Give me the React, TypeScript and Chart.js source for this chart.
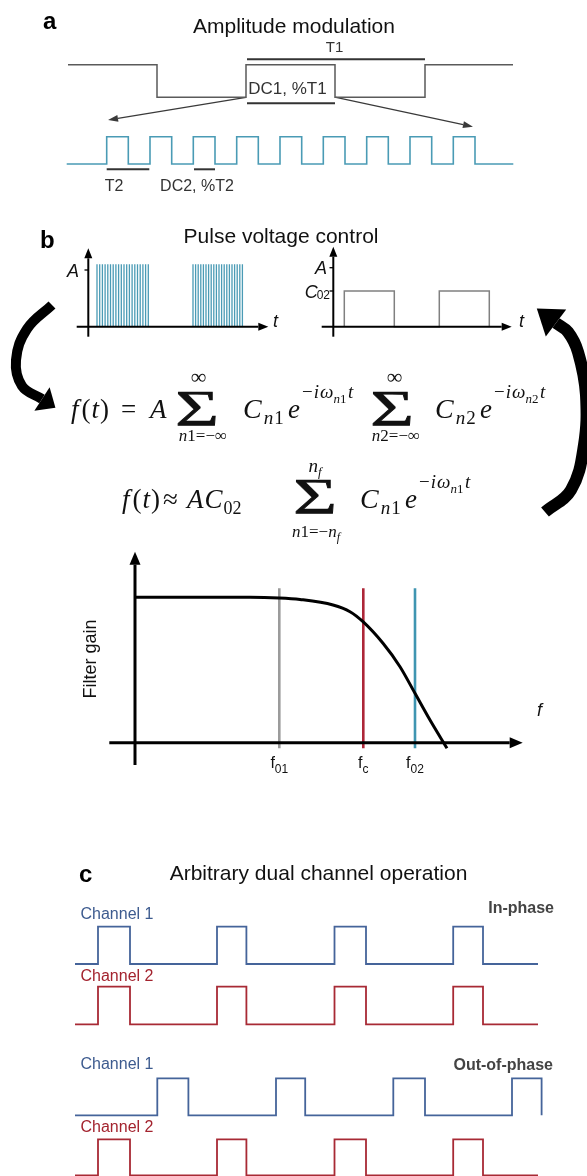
import React, { useEffect, useRef } from "react";
import { Chart, registerables } from "chart.js";
Chart.register(...registerables);

const PAGE_W = 587;
const PAGE_H = 1176;

// ---------------- texts ----------------
const TITLE_A = "Amplitude modulation";
const TITLE_B = "Pulse voltage control";
const TITLE_C = "Arbitrary dual channel operation";
const LBL_T1 = "T1";
const LBL_DC1 = "DC1, %T1";
const LBL_T2 = "T2";
const LBL_DC2 = "DC2, %T2";
const LBL_GAIN = "Filter gain";
const LBL_CH1 = "Channel 1";
const LBL_CH2 = "Channel 2";
const LBL_IN = "In-phase";
const LBL_OUT = "Out-of-phase";
const FREQ_MARK_SUBS = ["01", "c", "02"];

// ---------------- panel a values ----------------
const ENV_START = 68;
const ENV_END = 513;
const ENV_HIGH = 64.7;
const ENV_LOW = 97.3;
const ENV_EDGES = [157, 246, 335, 425];
const CARRIER_START = 66.7;
const CARRIER_END = 513.3;
const CARRIER_HIGH = 136.7;
const CARRIER_LOW = 164;
const CARRIER_EDGES = [106.7, 128.3, 150, 171.7, 193.3, 215, 236.7, 258.3, 280, 301.7, 323.3, 345, 366.7, 388.3, 410, 431.7, 453.3, 475];
const T1_SPAN = [247, 425];
const DC1_SPAN = [247, 335];
const T2_SPAN = [106.7, 149.3];
const DC2_SPAN = [194, 215];

// ---------------- panel b values ----------------
const BURST_1 = [97, 99.7, 102.4, 105.1, 107.8, 110.5, 113.2, 115.9, 118.6, 121.3, 124, 126.7, 129.4, 132.1, 134.8, 137.5, 140.2, 142.9, 145.6, 148.3];
const BURST_2 = [193, 195.6, 198.2, 200.8, 203.4, 206, 208.6, 211.2, 213.8, 216.4, 219, 221.6, 224.2, 226.8, 229.4, 232, 234.6, 237.2, 239.8, 242.4];
const BURST_TOP = 264.3;
const B_BASE = 326.7;
const GATE_EDGES = [344.3, 394.3, 439.3, 489.3];
const GATE_HIGH = 291;

// ---------------- filter values ----------------
const FILTER_F = [135, 250, 279, 300, 333, 350, 363, 383, 400, 415, 430, 447];
const FILTER_GAIN = [597.3, 597.3, 598, 599.5, 605, 611.7, 621.7, 643.3, 666.7, 693.3, 720, 748.3];
const FREQ_MARKS = [279.3, 363.3, 415];
const FREQ_MARK_COLORS = ["#9b9b9b", "#ad2638", "#3f95b1"];
const FREQ_MARK_TOP = 588.3;
const FREQ_MARK_BOTTOM = 748.3;

// ---------------- panel c values ----------------
const CH_START = 75;
const CH_END = 538;
const IN_EDGES = [98, 130, 217, 246.4, 334.5, 366, 453.2, 483];
const OUT_CH1_EDGES = [157.3, 188.4, 276, 305.2, 393.3, 425, 512, 541.6];
const OUT_CH2_EDGES = [98, 130, 217, 246.4, 334.5, 366, 453.2, 483];
const IN_CH1_LEVELS = [964, 926.7];
const IN_CH2_LEVELS = [1024.3, 986.7];
const OUT_CH1_LEVELS = [1115.3, 1078.3];
const OUT_CH2_LEVELS = [1175.3, 1139.3];

// ---------------- curved arrows ----------------
const ARC_LEFT = [
  [52, 305], [27, 329], [16, 360], [22, 386], [42, 399],
];
const ARC_RIGHT = [
  [545, 512], [571, 490], [584, 445], [586, 395], [578, 352], [568, 332], [556, 323],
];

type Pt = { x: number; y: number | null };

function square(start: number, end: number, edges: number[], lo: number, hi: number, startHigh: boolean): Pt[] {
  const pts: Pt[] = [];
  let level = startHigh ? hi : lo;
  pts.push({ x: start, y: level });
  for (const e of edges) {
    pts.push({ x: e, y: level });
    level = level === hi ? lo : hi;
    pts.push({ x: e, y: level });
  }
  pts.push({ x: end, y: level });
  return pts;
}
function spikes(xsv: number[], lo: number, hi: number): Pt[] {
  const pts: Pt[] = [];
  for (const x of xsv) {
    pts.push({ x, y: lo }, { x, y: hi }, { x, y: null });
  }
  return pts;
}
function seg(x1: number, y1: number, x2: number, y2: number): Pt[] {
  return [{ x: x1, y: y1 }, { x: x2, y: y2 }];
}
function poly(arr: number[][]): Pt[] {
  return arr.map(([x, y]) => ({ x, y }));
}
function ds(data: Pt[], color: string, width: number, extra: any = {}) {
  return {
    data,
    borderColor: color,
    backgroundColor: color,
    borderWidth: width,
    pointRadius: 0,
    pointHoverRadius: 0,
    fill: false,
    tension: 0,
    spanGaps: false,
    borderCapStyle: "butt",
    borderJoinStyle: "miter",
    order: 5,
    ...extra,
  };
}

const SANS = '"Liberation Sans", Arial, sans-serif';
const SERIF = '"Liberation Serif", "DejaVu Serif", serif';

type Tok = { s: string; z: number; dy?: number; it?: boolean; g?: number };

const arrowPlugin = {
  id: "arrowheads",
  afterDatasetsDraw(chart: any) {
    const ctx = chart.ctx;
    chart.data.datasets.forEach((d: any, i: number) => {
      if (!d.arrowHead) return;
      const pts = chart.getDatasetMeta(i).data;
      const a = pts[pts.length - 2];
      const b = pts[pts.length - 1];
      const ang = Math.atan2(b.y - a.y, b.x - a.x);
      const c = Math.cos(ang), s = Math.sin(ang);
      const { len, w } = d.arrowHead;
      const tx = b.x + len * c, ty = b.y + len * s;
      ctx.save();
      ctx.fillStyle = d.borderColor;
      ctx.beginPath();
      ctx.moveTo(tx, ty);
      ctx.lineTo(b.x - (w / 2) * s, b.y + (w / 2) * c);
      ctx.lineTo(b.x + (w / 2) * s, b.y - (w / 2) * c);
      ctx.closePath();
      ctx.fill();
      ctx.restore();
    });
  },
};

const textPlugin = {
  id: "texts",
  afterDraw(chart: any) {
    const ctx: CanvasRenderingContext2D = chart.ctx;
    const X = (v: number) => chart.scales.x.getPixelForValue(v);
    const Y = (v: number) => chart.scales.y.getPixelForValue(v);
    const text = (s: string, x: number, y: number, font: string, color: string, align: CanvasTextAlign = "left") => {
      ctx.font = font;
      ctx.fillStyle = color;
      ctx.textAlign = align;
      ctx.textBaseline = "alphabetic";
      ctx.fillText(s, X(x), Y(y));
    };
    const mfont = (t: Tok) => `${t.it ? "italic " : ""}${t.z}px ${SERIF}`;
    const runW = (toks: Tok[]) => {
      let w = 0;
      for (const t of toks) {
        ctx.font = mfont(t);
        w += ctx.measureText(t.s).width + (t.g || 0);
      }
      return w;
    };
    const run = (x: number, y: number, toks: Tok[]) => {
      let px = X(x);
      ctx.textAlign = "left";
      ctx.textBaseline = "alphabetic";
      ctx.fillStyle = "#111";
      for (const t of toks) {
        ctx.font = mfont(t);
        ctx.fillText(t.s, px, Y(y) + (t.dy || 0));
        px += ctx.measureText(t.s).width + (t.g || 0);
      }
    };
    const centered = (cx: number, y: number, toks: Tok[]) => {
      const w = runW(toks);
      run(cx - w / 2, y, toks);
    };
    const sigma = (cx: number, bottom: number) => {
      ctx.save();
      ctx.translate(X(cx), Y(bottom));
      ctx.scale(1.5, 1);
      ctx.font = `50px ${SERIF}`;
      ctx.fillStyle = "#111";
      ctx.strokeStyle = "#111";
      ctx.lineWidth = 0.7;
      ctx.textAlign = "center";
      ctx.textBaseline = "alphabetic";
      ctx.fillText("\u03A3", 0, 0);
      ctx.strokeText("\u03A3", 0, 0);
      ctx.restore();
    };
    const term = (xc: number, xe: number, y: number, sub: string) => {
      run(xc, y, [
        { s: "C", z: 28, it: true, g: 2 },
        { s: "n", z: 19, dy: 6, it: true, g: 1 },
        { s: sub, z: 19, dy: 6 },
      ]);
      run(xe, y, [{ s: "e", z: 27, it: true, g: 2 }]);
      run(xe + 14, y, [
        { s: "\u2212", z: 19, dy: -20, g: 1 },
        { s: "i", z: 19, dy: -20, it: true, g: 1 },
        { s: "\u03C9", z: 19, dy: -20, it: true },
        { s: "n", z: 13, dy: -15, it: true },
        { s: sub, z: 13, dy: -15, g: 1.5 },
        { s: "t", z: 19, dy: -20, it: true },
      ]);
    };
    const fOfT: Tok[] = [
      { s: "f", z: 27, it: true, g: 3 },
      { s: "(", z: 27, g: 1 },
      { s: "t", z: 27, it: true, g: 1 },
      { s: ")", z: 27 },
    ];

    // ---- panel letters & titles
    text("a", 43, 29, `bold 24px ${SANS}`, "#000");
    text(TITLE_A, 294, 33, `21px ${SANS}`, "#111", "center");
    text("b", 40, 248, `bold 24px ${SANS}`, "#000");
    text(TITLE_B, 281, 243, `21px ${SANS}`, "#111", "center");
    text("c", 79, 882, `bold 24px ${SANS}`, "#000");
    text(TITLE_C, 318.5, 880, `21px ${SANS}`, "#111", "center");

    // ---- panel a labels
    text(LBL_T1, 334.5, 52, `15px ${SANS}`, "#333", "center");
    text(LBL_DC1, 287.5, 94, `17px ${SANS}`, "#333", "center");
    text(LBL_T2, 114, 191, `16px ${SANS}`, "#333", "center");
    text(LBL_DC2, 197, 191, `16px ${SANS}`, "#333", "center");

    // ---- panel b axis labels
    text("A", 79, 276.5, `italic 18px ${SANS}`, "#111", "right");
    text("t", 273, 327, `italic 18px ${SANS}`, "#111");
    text("A", 327, 274, `italic 18px ${SANS}`, "#111", "right");
    ctx.font = `12px ${SANS}`;
    const w02 = ctx.measureText("02").width;
    text("02", 330, 299, `12px ${SANS}`, "#111", "right");
    text("C", 330 - w02 + 1, 297.5, `italic 18px ${SANS}`, "#111", "right");
    text("t", 519, 327, `italic 18px ${SANS}`, "#111");

    // ---- equations
    run(71, 418, fOfT);
    run(121, 418, [{ s: "=", z: 27 }]);
    run(150, 418, [{ s: "A", z: 27, it: true }]);
    sigma(197, 425);
    centered(198.5, 384, [{ s: "\u221E", z: 22 }]);
    centered(203, 441, [{ s: "n", z: 17, it: true }, { s: "1=\u2212\u221E", z: 17 }]);
    term(243, 288, 418, "1");
    sigma(392, 425);
    centered(394.5, 384, [{ s: "\u221E", z: 22 }]);
    centered(396, 441, [{ s: "n", z: 17, it: true }, { s: "2=\u2212\u221E", z: 17 }]);
    term(435, 480, 418, "2");

    run(122, 508, fOfT);
    run(163, 508, [{ s: "\u2248", z: 27 }]);
    run(187, 508, [
      { s: "A", z: 27, it: true, g: 1 },
      { s: "C", z: 27, it: true, g: 1 },
      { s: "02", z: 18, dy: 6 },
    ]);
    sigma(315, 513);
    centered(315, 472, [{ s: "n", z: 19, it: true }, { s: "f", z: 13, dy: 4, it: true }]);
    centered(316, 537, [
      { s: "n", z: 17, it: true },
      { s: "1=\u2212", z: 17 },
      { s: "n", z: 17, it: true },
      { s: "f", z: 12, dy: 4, it: true },
    ]);
    term(360, 405, 508, "1");

    // ---- filter labels
    ctx.save();
    ctx.translate(X(96), Y(659));
    ctx.rotate(-Math.PI / 2);
    ctx.font = `18px ${SANS}`;
    ctx.fillStyle = "#111";
    ctx.textAlign = "center";
    ctx.textBaseline = "alphabetic";
    ctx.fillText(LBL_GAIN, 0, 0);
    ctx.restore();
    FREQ_MARKS.forEach((fx, i) => {
      const sub = FREQ_MARK_SUBS[i];
      ctx.font = `16px ${SANS}`;
      const wf = ctx.measureText("f").width;
      ctx.font = `12px ${SANS}`;
      const ws = ctx.measureText(sub).width;
      const left = fx - (wf + ws) / 2;
      text("f", left, 768, `16px ${SANS}`, "#111");
      text(sub, left + wf, 773, `12px ${SANS}`, "#111");
    });
    text("f", 537, 716, `italic 18px ${SANS}`, "#111");

    // ---- panel c labels
    text(LBL_IN, 554, 913, `bold 16px ${SANS}`, "#444", "right");
    text(LBL_CH1, 80.5, 919, `16px ${SANS}`, "#3d5b8f");
    text(LBL_CH2, 80.5, 981, `16px ${SANS}`, "#a3232e");
    text(LBL_OUT, 553, 1070, `bold 16px ${SANS}`, "#444", "right");
    text(LBL_CH1, 80.5, 1069, `16px ${SANS}`, "#3d5b8f");
    text(LBL_CH2, 80.5, 1132, `16px ${SANS}`, "#a3232e");
  },
};

export default function App() {
  const ref = useRef<HTMLCanvasElement | null>(null);
  useEffect(() => {
    if (!ref.current) return;
    const BLUE = "#4a9bb5";
    const C1 = "#45649a";
    const C2 = "#a82a35";
    const datasets: any[] = [
      // panel a
      ds(square(ENV_START, ENV_END, ENV_EDGES, ENV_LOW, ENV_HIGH, true), "#5a5a5a", 1.5),
      ds(square(CARRIER_START, CARRIER_END, CARRIER_EDGES, CARRIER_LOW, CARRIER_HIGH, false), BLUE, 1.6),
      ds(seg(T1_SPAN[0], 59.3, T1_SPAN[1], 59.3), "#333", 2),
      ds(seg(DC1_SPAN[0], 103.3, DC1_SPAN[1], 103.3), "#333", 2),
      ds(seg(T2_SPAN[0], 169.3, T2_SPAN[1], 169.3), "#333", 2),
      ds(seg(DC2_SPAN[0], 169.3, DC2_SPAN[1], 169.3), "#333", 2),
      ds(seg(246, 97.3, 117.9, 118.4), "#3a3a3a", 1.2, { arrowHead: { len: 10, w: 7 } }),
      ds(seg(336, 97.3, 463.2, 124.6), "#3a3a3a", 1.2, { arrowHead: { len: 10, w: 7 } }),
      // panel b
      ds(spikes(BURST_1, B_BASE, BURST_TOP).concat(spikes(BURST_2, B_BASE, BURST_TOP)), BLUE, 1.3, { order: 6 }),
      ds(square(GATE_EDGES[0], GATE_EDGES[3], GATE_EDGES, B_BASE, GATE_HIGH, false), "#808080", 1.5, { order: 6 }),
      ds(seg(88.3, 336.7, 88.3, 258.3), "#000", 2, { arrowHead: { len: 10, w: 8 }, order: 1 }),
      ds(seg(76.7, 326.7, 258.3, 326.7), "#000", 2, { arrowHead: { len: 10, w: 8 }, order: 1 }),
      ds(seg(333.3, 336.7, 333.3, 256.7), "#000", 2, { arrowHead: { len: 10, w: 8 }, order: 1 }),
      ds(seg(321.7, 326.7, 501.7, 326.7), "#000", 2, { arrowHead: { len: 10, w: 8 }, order: 1 }),
      ds(seg(84.5, 270, 88.3, 270), "#000", 1.3, { order: 1 }),
      ds(seg(329.5, 267.7, 333.3, 267.7), "#000", 1.3, { order: 1 }),
      ds(seg(329.5, 291, 333.3, 291), "#000", 1.3, { order: 1 }),
      // curved arrows
      ds(poly(ARC_LEFT), "#000", 10, { tension: 0.4, arrowHead: { len: 16, w: 28 } }),
      ds(poly(ARC_RIGHT), "#000", 12, { tension: 0.4, arrowHead: { len: 24, w: 34 } }),
      // filter
      ...FREQ_MARKS.map((fx, i) => ds(seg(fx, FREQ_MARK_TOP, fx, FREQ_MARK_BOTTOM), FREQ_MARK_COLORS[i], 2.6, { order: 8 })),
      ds(FILTER_F.map((f, i) => ({ x: f, y: FILTER_GAIN[i] })), "#000", 3, { cubicInterpolationMode: "monotone", order: 2 }),
      ds(seg(135, 765, 135, 564.7), "#000", 3, { arrowHead: { len: 13, w: 11 }, order: 1 }),
      ds(seg(109.3, 742.7, 509.7, 742.7), "#000", 3, { arrowHead: { len: 13, w: 11 }, order: 1 }),
      // panel c
      ds(square(CH_START, CH_END, IN_EDGES, IN_CH1_LEVELS[0], IN_CH1_LEVELS[1], false), C1, 1.8),
      ds(square(CH_START, CH_END, IN_EDGES, IN_CH2_LEVELS[0], IN_CH2_LEVELS[1], false), C2, 1.8),
      ds(square(CH_START, OUT_CH1_EDGES[OUT_CH1_EDGES.length - 1], OUT_CH1_EDGES, OUT_CH1_LEVELS[0], OUT_CH1_LEVELS[1], false), C1, 1.8),
      ds(square(CH_START, CH_END, OUT_CH2_EDGES, OUT_CH2_LEVELS[0], OUT_CH2_LEVELS[1], false), C2, 1.8),
    ];
    const chart = new Chart(ref.current, {
      type: "line",
      data: { datasets },
      options: {
        animation: false,
        responsive: false,
        maintainAspectRatio: false,
        devicePixelRatio: 1,
        layout: { padding: 0 },
        events: [],
        scales: {
          x: { type: "linear", min: 0, max: PAGE_W, display: false },
          y: { type: "linear", min: 0, max: PAGE_H, reverse: true, display: false },
        },
        plugins: { legend: { display: false }, tooltip: { enabled: false } },
      },
      plugins: [arrowPlugin, textPlugin],
    } as any);
    return () => chart.destroy();
  }, []);
  return (
    <div style={{ position: "absolute", left: 0, top: 0, width: PAGE_W, height: PAGE_H, background: "#fff" }}>
      <canvas ref={ref} width={PAGE_W} height={PAGE_H} style={{ display: "block", width: PAGE_W, height: PAGE_H }} />
    </div>
  );
}
